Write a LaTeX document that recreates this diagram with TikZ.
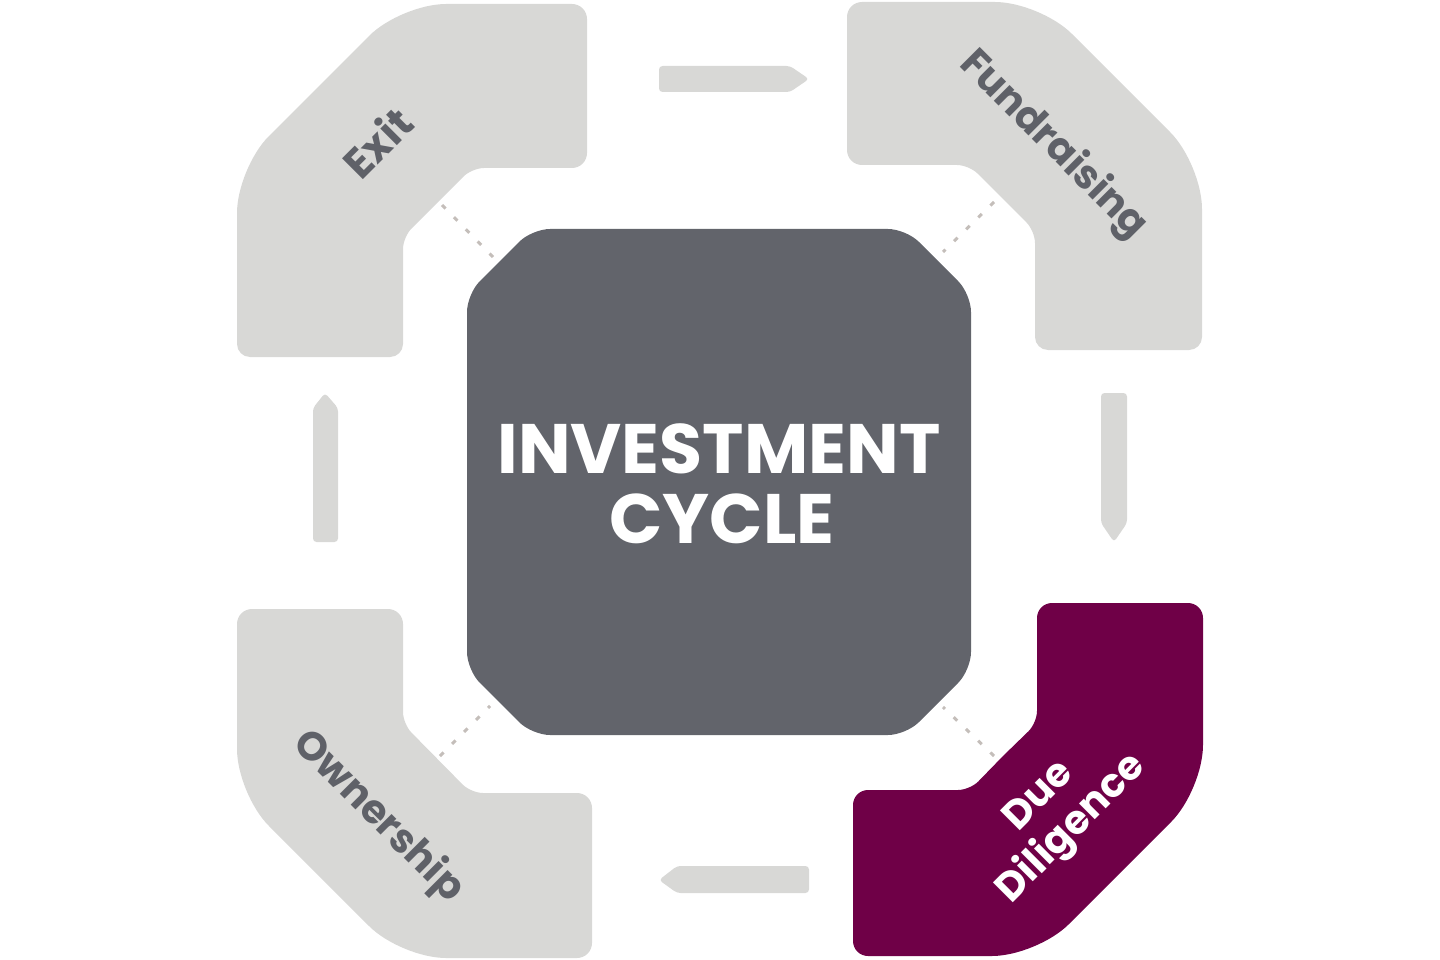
\documentclass[tikz,border=0pt]{standalone}
\usepackage{fontspec}
\setmainfont{Poppins}
\definecolor{lightg}{HTML}{D8D8D6}
\definecolor{darkg}{HTML}{62646B}
\definecolor{maroon}{HTML}{6F0047}
\definecolor{txtg}{HTML}{5F6168}
\definecolor{dashg}{HTML}{C4BEBA}
\tikzset{
  piece/.style={fill=lightg, draw=none},
  hipiece/.style={fill=maroon, draw=none},
  core/.style={fill=darkg, draw=none, rounded corners=18},
  flow/.style={fill=lightg, draw=none, rounded corners=3.5},
  link/.style={draw=dashg, line width=3pt, dash pattern=on 5pt off 12pt},
  label/.style={text=txtg, font=\bfseries\fontsize{40}{46}\selectfont, inner sep=0pt},
  hilabel/.style={text=white, font=\bfseries\fontsize{40}{46}\selectfont, inner sep=0pt, align=center},
  title/.style={text=white, font=\bfseries\fontsize{70}{70}\selectfont, inner sep=0pt, anchor=base}
}
\begin{document}
\begin{tikzpicture}[x=1pt,y=-1pt]
\useasboundingbox (0,0) rectangle (1440,960);

% Exit (top-left)
\path[piece] (320,357) [rounded corners=13] -- (237,357) -- (237,262.5)
  [rounded corners=45] -- (237,168) -- (319,86) -- (401,4) -- (494,4)
  [rounded corners=15] -- (587,4) -- (587,86) -- (587,168) -- (529.5,168)
  [rounded corners=12] -- (472,168) -- (437.5,202.5) -- (403,237) -- (403,297)
  [rounded corners=13] -- (403,357) -- cycle;

% Fundraising (top-right)
\path[piece] (1118,350) [rounded corners=13] -- (1202,350) -- (1202,257)
  [rounded corners=45] -- (1202,164) -- (1121,83) -- (1040,2) -- (943,2)
  [rounded corners=15] -- (847,2) -- (847,83) -- (847,165) -- (908,165)
  [rounded corners=12] -- (969,165) -- (1002,198) -- (1035,231) -- (1035,290)
  [rounded corners=13] -- (1035,350) -- cycle;

% Ownership (bottom-left)
\path[piece] (320,609) [rounded corners=15] -- (403,609) -- (403,666)
  [rounded corners=12] -- (403,724) -- (437,758.5) -- (471,793) -- (531,793)
  [rounded corners=15] -- (592,793) -- (592,875) -- (592,958) -- (496,958)
  [rounded corners=45] -- (401,958) -- (319,876) -- (237,794) -- (237,701)
  [rounded corners=15] -- (237,609) -- cycle;

% Due Diligence (bottom-right, highlighted)
\path[hipiece] (1120,603) [rounded corners=15] -- (1203,603) -- (1203,696)
  [rounded corners=45] -- (1203,790) -- (1120,873) -- (1037,956) -- (945,956)
  [rounded corners=15] -- (853,956) -- (853,873) -- (853,790) -- (911,790)
  [rounded corners=12] -- (970,790) -- (1003,756) -- (1037,723) -- (1037,663)
  [rounded corners=15] -- (1037,603) -- cycle;

% centre
\path[core] (532,229) -- (906,229) -- (971,294) -- (971,670) -- (906,735)
  -- (532,735) -- (467,670) -- (467,294) -- cycle;

% flow arrows
\path[flow] (659,66) -- (790,66) -- (809,79) -- (790,92) -- (659,92) -- cycle;
\path[flow] (1101,393) -- (1127,393) -- (1127,523) -- (1114,542) -- (1101,523) -- cycle;
\path[flow] (809,866) -- (809,893) -- (677,893) -- (659,880) -- (677,866) -- cycle;
\path[flow] (313,542) -- (313,408) -- (325,393) -- (338,408) -- (338,542) -- cycle;

% dashed links
\coordinate (tlA) at (442,205); \coordinate (tlB) at (493,257);
\coordinate (trA) at (994,202); \coordinate (trB) at (943,252);
\coordinate (brA) at (994,756); \coordinate (brB) at (943,707);
\coordinate (blA) at (440,756); \coordinate (blB) at (490,706);
\draw[link] (tlA) -- (tlB);
\draw[link] (trA) -- (trB);
\draw[link] (brA) -- (brB);
\draw[link] (blA) -- (blB);

% labels
\node[title] (inv) at (719,473) {INVESTMENT};
\node[title] (cyc) at (722,543) {CYCLE};
\node[label, font=\bfseries\fontsize{42}{46}\selectfont, rotate=45] (exit) at (377,142) {Exit};
\node[label, rotate=-45] (fund) at (1053,145) {Fundraising};
\node[label, rotate=-45] (own) at (378,817) {Ownership};
\node[hilabel, rotate=45] (dd) at (1057,814) {Due\\Diligence};
\end{tikzpicture}
\end{document}
